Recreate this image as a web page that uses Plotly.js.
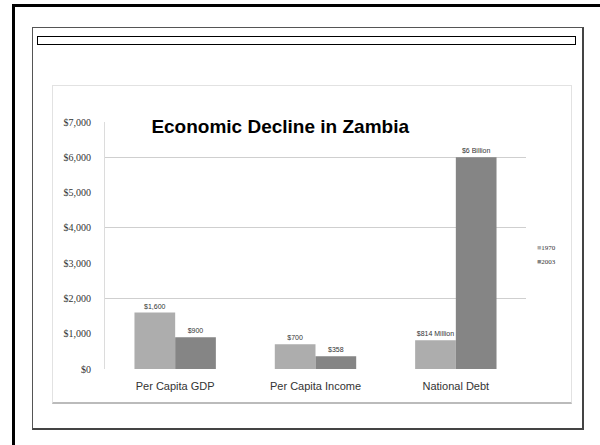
<!DOCTYPE html>
<html>
<head>
<meta charset="utf-8">
<script src="https://cdn.plot.ly/plotly-3.0.1.min.js"></script>
<style>
  html, body { margin:0; padding:0; background:#fff; width:600px; height:445px; overflow:hidden; }
  #chart { position:absolute; left:0; top:0; width:600px; height:445px; }
  .frame { position:absolute; pointer-events:none; box-sizing:border-box; }
</style>
</head>
<body>
<div id="chart"></div>
<div class="frame" style="left:12px;top:4px;width:700px;height:600px;border:3px solid #000;"></div>
<div class="frame" style="left:32px;top:27px;width:552px;height:403px;border:1px solid #555;border-right:2px solid #444;border-bottom:2px solid #444;"></div>
<div class="frame" style="left:37px;top:36px;width:539px;height:9px;border:1.5px solid #000;"></div>
<div class="frame" style="left:52px;top:85px;width:520px;height:319px;border:1px solid #e2e2e2;border-bottom:2px solid #bbb;"></div>
<script>
const categories = ["Per Capita GDP", "Per Capita Income", "National Debt"];
const values1970 = [1600, 700, 814];
const values2003 = [900, 358, 6000];
const labels1970 = ["$1,600", "$700", "$814 Million"];
const labels2003 = ["$900", "$358", "$6 Billion"];
const seriesNames = ["1970", "2003"];
const seriesColors = ["#adadad", "#858585"];
const yTickVals = [0, 1000, 2000, 3000, 4000, 5000, 6000, 7000];
const yTickText = ["$0", "$1,000", "$2,000", "$3,000", "$4,000", "$5,000", "$6,000", "$7,000"];
const gridVals = [2000, 4000, 6000];

const labelFont = {family: "Liberation Sans", size: 7, color: "#333"};
const serif = "Liberation Serif, DejaVu Serif, serif";

const traces = [
  {
    type: "bar", name: seriesNames[0], x: categories, y: values1970,
    text: labels1970, textposition: "outside", textfont: labelFont,
    constraintext: "none", cliponaxis: false,
    marker: {color: seriesColors[0]}
  },
  {
    type: "bar", name: seriesNames[1], x: categories, y: values2003,
    text: labels2003, textposition: "outside", textfont: labelFont,
    constraintext: "none", cliponaxis: false,
    marker: {color: seriesColors[1]}
  },
  {type: "scatter", x: categories, y: values1970, yaxis: "y2", mode: "none", showlegend: false, hoverinfo: "skip"}
];

const legendAnnotations = seriesNames.map((name, i) => ({
  xref: "paper", yref: "paper",
  x: 1.022, y: 0.49 - i * 0.057, xanchor: "left", yanchor: "middle",
  showarrow: false,
  text: '<span style="color:' + seriesColors[i] + '">■</span>' + name,
  font: {family: serif, size: 7, color: "#333"}
}));

const layout = {
  width: 600, height: 445,
  margin: {l: 105, r: 74, t: 122, b: 76, pad: 0},
  paper_bgcolor: "#fff", plot_bgcolor: "#fff",
  barmode: "group", bargap: 0.42, bargroupgap: 0,
  showlegend: false,
  title: {
    text: "<b>Economic Decline in Zambia</b>",
    font: {family: "Liberation Sans", size: 19, color: "#000"},
    x: 0.467, xref: "container", xanchor: "center",
    y: 0.716, yref: "container", yanchor: "middle"
  },
  xaxis: {
    showgrid: false, zeroline: false, showline: false,
    ticks: "", tickfont: {family: "Liberation Sans", size: 11, color: "#333"},
    ticklabelstandoff: 9
  },
  yaxis: {
    range: [0, 7000], tickvals: yTickVals, ticktext: yTickText,
    showgrid: false, zeroline: false,
    showline: true, linecolor: "#dcdcdc", linewidth: 1,
    ticks: "", tickfont: {family: serif, size: 10, color: "#333"},
    ticklabelstandoff: 11
  },
  yaxis2: {
    range: [0, 7000], overlaying: "y", side: "left",
    tickvals: gridVals, showticklabels: false,
    showgrid: true, gridcolor: "#cfcfcf", gridwidth: 1,
    zeroline: false, showline: false, ticks: ""
  },
  annotations: legendAnnotations
};

Plotly.newPlot("chart", traces, layout, {displayModeBar: false, staticPlot: true});
</script>
</body>
</html>
